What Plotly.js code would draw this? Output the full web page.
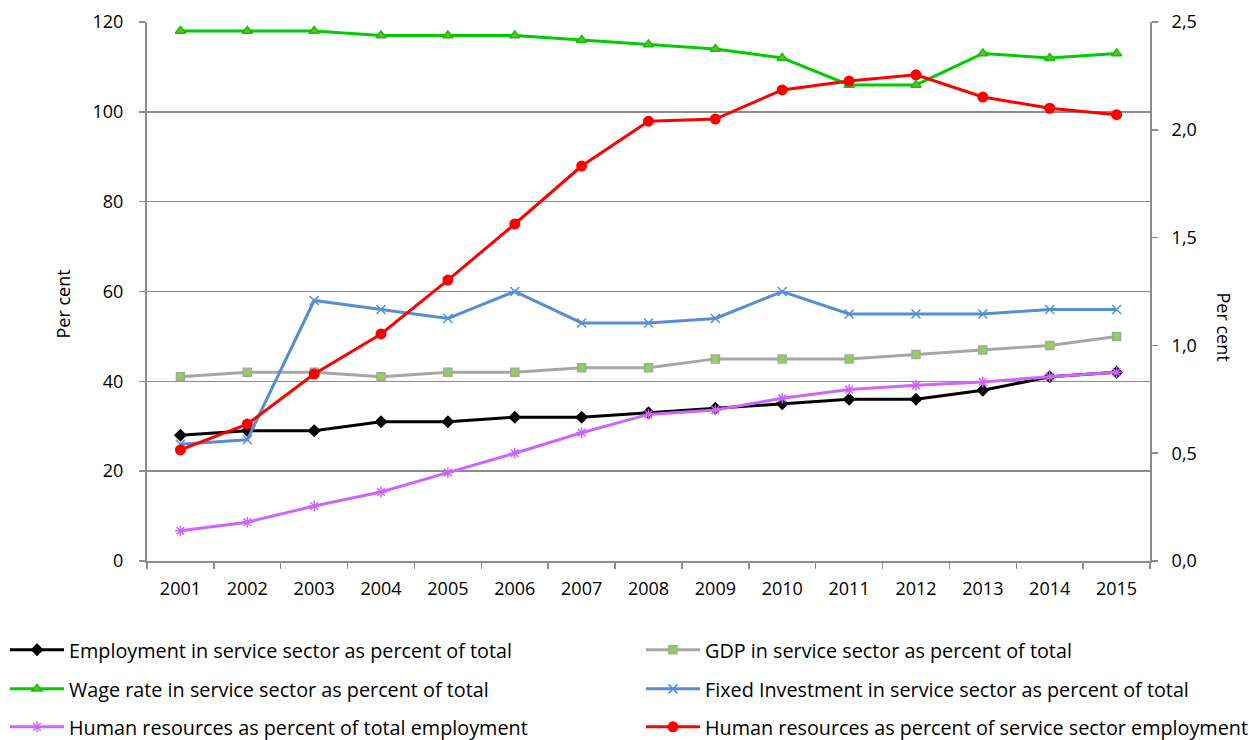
<!DOCTYPE html>
<html>
<head>
<meta charset="utf-8">
<script src="https://cdn.plot.ly/plotly-3.0.1.min.js"></script>
<style>
  html, body { margin: 0; padding: 0; background: #ffffff; }
  #chart { width: 1249px; height: 740px; }
</style>
</head>
<body>
<div id="chart"></div>
<script>
// ---- Data ----
const years = ["2001","2002","2003","2004","2005","2006","2007","2008","2009","2010","2011","2012","2013","2014","2015"];

const employmentShare = [28, 29, 29, 31, 31, 32, 32, 33, 34, 35, 36, 36, 38, 41, 42];          // left axis
const gdpShare        = [41, 42, 42, 41, 42, 42, 43, 43, 45, 45, 45, 46, 47, 48, 50];          // left axis
const wageRate        = [118, 118, 118, 117, 117, 117, 116, 115, 114, 112, 106, 106, 113, 112, 113]; // left axis
const fixedInvestment = [26, 27, 58, 56, 54, 60, 53, 53, 54, 60, 55, 55, 55, 56, 56];          // left axis
const hrTotalEmployment   = [0.14, 0.18, 0.255, 0.32, 0.41, 0.50, 0.595, 0.68, 0.70, 0.755, 0.795, 0.815, 0.83, 0.855, 0.875]; // right axis
const hrServiceEmployment = [0.515, 0.635, 0.867, 1.053, 1.303, 1.563, 1.832, 2.04, 2.05, 2.185, 2.226, 2.255, 2.152, 2.10, 2.07]; // right axis

const seriesNames = [
  "Employment in service sector as percent of total",
  "GDP in service sector as percent of total",
  "Wage rate in service sector as percent of total",
  "Fixed Investment in service sector as percent of total",
  "Human resources as percent of total employment",
  "Human resources as percent of service sector employment"
];

const leftTicks = [0, 20, 40, 60, 80, 100, 120];
const rightTicks = [0, 0.5, 1.0, 1.5, 2.0, 2.5];
const axisTitle = "Per cent";

// ---- Styling ----
const FONT = "Open Sans, Liberation Sans, sans-serif";
const GRID = "#8c8c8c";
const TICK_SIZE = 18;

const traces = [
  {
    x: years, y: employmentShare, name: seriesNames[0], yaxis: "y", legend: "legend",
    type: "scatter", mode: "lines+markers",
    line: { color: "#000000", width: 3 },
    marker: { symbol: "diamond", size: 10, color: "#000000" }
  },
  {
    x: years, y: gdpShare, name: seriesNames[1], yaxis: "y", legend: "legend2",
    type: "scatter", mode: "lines+markers",
    line: { color: "#a6a6a6", width: 3 },
    marker: { symbol: "square", size: 8, color: "#92d050", line: { color: "#a6a6a6", width: 1.5 } }
  },
  {
    x: years, y: wageRate, name: seriesNames[2], yaxis: "y", legend: "legend3",
    type: "scatter", mode: "lines+markers",
    line: { color: "#00cc00", width: 3 },
    marker: { symbol: "triangle-up", size: 9, color: "#8aa53a", line: { color: "#00cc00", width: 1.5 } }
  },
  {
    x: years, y: fixedInvestment, name: seriesNames[3], yaxis: "y", legend: "legend4",
    type: "scatter", mode: "lines+markers",
    line: { color: "#558ed5", width: 3 },
    marker: { symbol: "x-thin-open", size: 9, color: "#558ed5", line: { color: "#558ed5", width: 1.5 } }
  },
  {
    x: years, y: hrTotalEmployment, name: seriesNames[4], yaxis: "y2", legend: "legend5",
    type: "scatter", mode: "lines+markers",
    line: { color: "#cc66ff", width: 3 },
    marker: { symbol: "asterisk-open", size: 9, color: "#cc66ff", line: { color: "#cc66ff", width: 1.5 } }
  },
  {
    x: years, y: hrServiceEmployment, name: seriesNames[5], yaxis: "y2", legend: "legend6",
    type: "scatter", mode: "lines+markers",
    line: { color: "#ff0000", width: 3 },
    marker: { symbol: "circle", size: 11, color: "#ff0000" }
  }
];

function legendAt(xpx, ypx) {
  return {
    xref: "container", yref: "container",
    x: xpx / 1249, y: 1 - ypx / 740,
    xanchor: "left", yanchor: "middle",
    orientation: "h",
    itemwidth: 54,
    bgcolor: "rgba(0,0,0,0)",
    borderwidth: 0,
    font: { family: FONT, size: 19.8, color: "#000000" }
  };
}

const layout = {
  width: 1249, height: 740,
  paper_bgcolor: "#ffffff", plot_bgcolor: "#ffffff",
  margin: { l: 147, r: 99, t: 22, b: 179, pad: 0 },
  separators: ", ",
  font: { family: FONT, size: TICK_SIZE, color: "#000000" },
  showlegend: true,
  xaxis: {
    type: "category",
    range: [-0.5, years.length - 0.5],
    tickson: "boundaries",
    ticks: "outside", ticklen: 6, tickwidth: 1.5, tickcolor: GRID,
    showline: true, linecolor: GRID, linewidth: 2,
    showgrid: false, zeroline: false,
    ticklabelstandoff: 10,
    tickfont: { family: FONT, size: TICK_SIZE, color: "#000000" }
  },
  yaxis: {
    range: [0, 120], tickvals: leftTicks,
    ticks: "outside", ticklen: 6, tickwidth: 1.5, tickcolor: GRID,
    showline: true, linecolor: GRID, linewidth: 2,
    showgrid: true, gridcolor: GRID, gridwidth: 1.5,
    zeroline: false,
    ticklabelstandoff: 12,
    tickfont: { family: FONT, size: TICK_SIZE, color: "#000000" }
  },
  yaxis2: {
    overlaying: "y", side: "right",
    range: [0, 2.5], tickvals: rightTicks, tickformat: ".1f",
    ticks: "outside", ticklen: 6, tickwidth: 1.5, tickcolor: GRID,
    showline: true, linecolor: GRID, linewidth: 2,
    showgrid: false, zeroline: false,
    ticklabelstandoff: 10,
    tickfont: { family: FONT, size: TICK_SIZE, color: "#000000" }
  },
  annotations: [
    {
      text: axisTitle, xref: "paper", yref: "paper",
      x: 0, y: 0.5, xanchor: "center", yanchor: "middle",
      xshift: -85, yshift: -13, showarrow: false, textangle: -90,
      font: { family: FONT, size: TICK_SIZE, color: "#000000" }
    },
    {
      text: axisTitle, xref: "paper", yref: "paper",
      x: 1, y: 0.5, xanchor: "center", yanchor: "middle",
      xshift: 74, yshift: -35, showarrow: false, textangle: 90,
      font: { family: FONT, size: TICK_SIZE, color: "#000000" }
    }
  ],
  legend: legendAt(5, 650),
  legend2: legendAt(641, 650),
  legend3: legendAt(5, 689),
  legend4: legendAt(641, 689),
  legend5: legendAt(5, 727),
  legend6: legendAt(641, 727)
};

Plotly.newPlot("chart", traces, layout, { displayModeBar: false, staticPlot: true });
</script>
</body>
</html>
